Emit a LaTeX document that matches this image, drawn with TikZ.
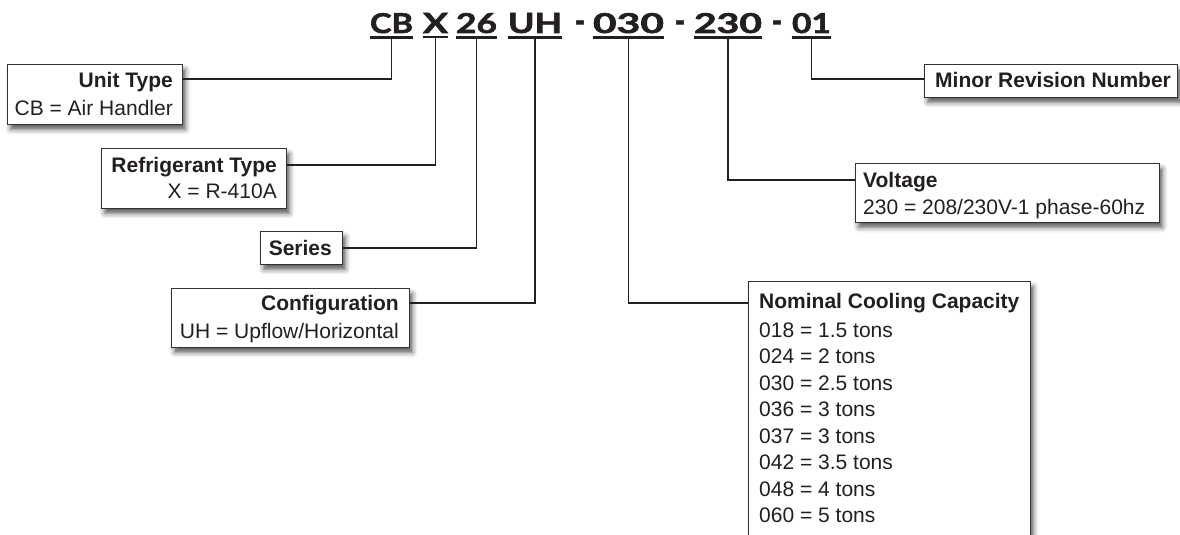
\documentclass[tikz,border=0pt]{standalone}
\usepackage{fontspec}
\setmainfont{Liberation Sans}
\newfontfamily\codefont{Lato}[BoldFeatures={FakeBold=2}]
\usetikzlibrary{shadows.blur}
\definecolor{ink}{HTML}{231F20}
\definecolor{edge}{HTML}{333333}

% one segment of the model number, stretched to its printed size
\newcommand{\codeseg}[2]{\resizebox{#1pt}{20pt}{\codefont\bfseries #2}}
% separator between the segments
\newcommand{\codesep}{\scalebox{1.0}[1.25]{\fontsize{28}{28}\selectfont\codefont\bfseries -}}

\begin{document}
\begin{tikzpicture}[x=1pt,y=-1pt,
  box/.style={draw=edge, line width=1pt, fill=white, inner sep=0, anchor=north west,
    blur shadow={shadow xshift=3pt, shadow yshift=-5pt, shadow blur radius=5pt, shadow opacity=65}},
  conn/.style={draw=ink, line width=1.8pt},
  uline/.style={draw=ink, line width=2.4pt},
  lbl/.style={inner sep=0, text=ink, font=\fontsize{21}{25}\selectfont},
  hd/.style={lbl, font=\fontsize{21}{25}\selectfont\bfseries},
  seg/.style={inner sep=0, anchor=base, text=ink}]
\useasboundingbox (0,0) rectangle (1180,535);
\clip (0,0) rectangle (1180,535);

% ---- model number ----
\node[seg] (sCB)  at (391.5,33) {\codeseg{43}{CB}};
\node[seg] (sX)   at (435.5,33) {\codeseg{25}{X}};
\node[seg] (s26)  at (476.5,33) {\codeseg{41}{26}};
\node[seg] (sUH)  at (535,33)   {\codeseg{54}{UH}};
\node[seg] (h1)   at (580,33)   {\codesep};
\node[seg] (s030) at (628.5,33) {\codeseg{71}{030}};
\node[seg] (h2)   at (680,33)   {\codesep};
\node[seg] (s230) at (728,33)   {\codeseg{68}{230}};
\node[seg] (h3)   at (777,33)   {\codesep};
\node[seg] (s01)  at (811.5,33) {\codeseg{39}{01}};

\foreach \s in {sCB,sX,s26,sUH,s030,s230,s01}{
  \draw[uline] ([yshift=-4pt]\s.south west) -- ([yshift=-4pt]\s.south east);
  \coordinate (u\s) at ([yshift=-4pt]\s.south);
}

% ---- description boxes ----
\node[box, minimum width=175pt, minimum height=60pt] (unit)   at (7,64)    {};
\node[box, minimum width=185pt, minimum height=60pt] (refr)   at (101,148) {};
\node[box, minimum width=82pt,  minimum height=33pt] (series) at (260,231) {};
\node[box, minimum width=238pt, minimum height=59pt] (config) at (171,288) {};
\node[box, minimum width=282pt, minimum height=280pt] (cap)   at (748,281) {};
\node[box, minimum width=304pt, minimum height=59pt] (volt)   at (855,163) {};
\node[box, minimum width=253pt, minimum height=33pt] (minor)  at (924,64)  {};

% box texts
\node[hd,  anchor=base east] (unitH) at (173,88)  {Unit Type};
\node[lbl, anchor=base east] (unitT) at (173,115) {CB = Air Handler};
\node[hd,  anchor=base east] (refrH) at (277,172) {Refrigerant Type};
\node[lbl, anchor=base east] (refrT) at (277,198) {X = R-410A};
\node[hd,  anchor=base east] (serH)  at (332,255.5) {Series};
\node[hd,  anchor=base east] (confH) at (399,310.5) {Configuration};
\node[lbl, anchor=base east] (confT) at (399,338) {UH = Upflow/Horizontal};
\node[hd,  anchor=base west] (voltH) at (863,187.5) {Voltage};
\node[lbl, anchor=base west] (voltT) at (863,214) {230 = 208/230V-1 phase-60hz};
\node[hd,  anchor=base west] (minH)  at (935,87.5) {Minor Revision Number};
\node[hd,  anchor=base west] (capH)  at (759,308) {Nominal Cooling Capacity};
\foreach \c/\t [count=\i from 0] in {018/1.5, 024/2, 030/2.5, 036/3, 037/3, 042/3.5, 048/4, 060/5}
  \node[lbl, anchor=base west] (cap\i) at (759,337+26.57*\i) {\c\ = \t\ tons};

% ---- connectors ----
\path (unit.north east)   ++(0,15) coordinate (pUnit);
\path (refr.north east)   ++(0,17) coordinate (pRefr);
\path (config.north east) ++(0,15) coordinate (pConf);
\path (cap.north west)    ++(0,22) coordinate (pCap);
\path (volt.north west)   ++(0,17) coordinate (pVolt);
\path (minor.north west)  ++(0,15) coordinate (pMin);

\draw[conn] (usCB)  |- (pUnit);
\draw[conn] (usX)   |- (pRefr);
\draw[conn] (us26)  |- (series.east);
\draw[conn] (usUH)  |- (pConf);
\draw[conn] (us030) |- (pCap);
\draw[conn] (us230) |- (pVolt);
\draw[conn] (us01)  |- (pMin);
\end{tikzpicture}
\end{document}
